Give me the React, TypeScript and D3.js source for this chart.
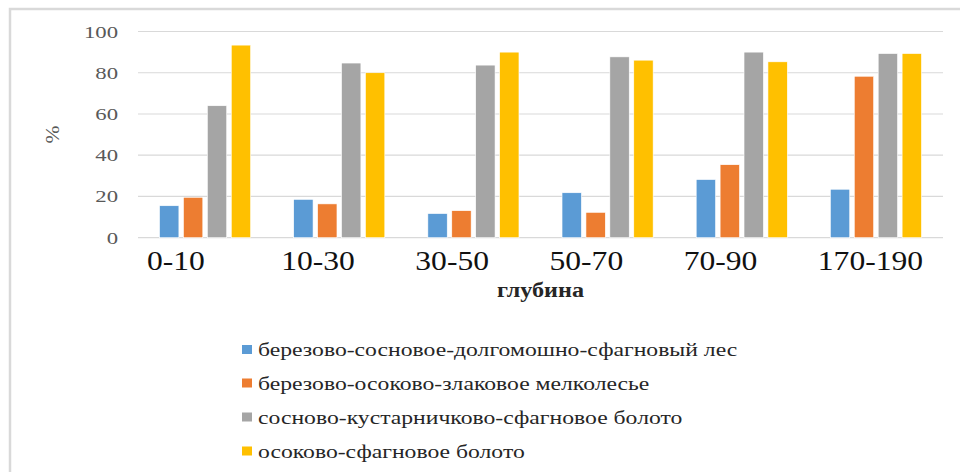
import { useEffect, useRef } from 'react';
import * as d3 from 'd3';

// depth intervals (cm)
const depths = ['0-10', '10-30', '30-50', '50-70', '70-90', '170-190'];

const seriesNames = [
  'березово-сосновое-долгомошно-сфагновый лес',
  'березово-осоково-злаковое мелколесье',
  'сосново-кустарничково-сфагновое болото',
  'осоково-сфагновое болото',
];

// values per depth, one array per series
const forestValues = [15.5, 18.6, 11.7, 21.8, 28.2, 23.5];
const smallWoodValues = [19.6, 16.4, 13.1, 12.3, 35.4, 78.3];
const pineBogValues = [64, 84.7, 83.7, 87.7, 90, 89.3];
const sedgeBogValues = [93.4, 80, 90, 86.1, 85.3, 89.3];

const yTicks = [0, 20, 40, 60, 80, 100];

const colors = ['#5b9bd5', '#ed7d31', '#a5a5a5', '#ffc000'];

const FONT = "'Liberation Serif', 'Times New Roman', serif";

export default function App() {
  const svgRef = useRef<SVGSVGElement>(null);
  const width = 960;
  const height = 472;

  useEffect(() => {
    if (!svgRef.current) return;
    const svg = d3.select(svgRef.current);
    svg.selectAll('*').remove();

    const allSeries = [forestValues, smallWoodValues, pineBogValues, sedgeBogValues];

    const plot = { left: 138, right: 943, top: 31.5, bottom: 237.7 };

    const x0 = d3.scaleBand<string>().domain(depths).range([plot.left, plot.right]).padding(0);
    const x1 = d3
      .scaleBand<number>()
      .domain(d3.range(allSeries.length))
      .range([0, x0.bandwidth()])
      .paddingInner(0.19)
      .paddingOuter(0.9);
    const y = d3.scaleLinear().domain([0, 100]).range([plot.bottom, plot.top]);

    // outer frame
    svg
      .append('rect')
      .attr('x', 10)
      .attr('y', 9)
      .attr('width', 980)
      .attr('height', 500)
      .attr('fill', 'none')
      .attr('stroke', '#d9d9d9')
      .attr('stroke-width', 2.5);

    // grid lines
    svg
      .selectAll('.grid')
      .data(yTicks)
      .enter()
      .append('line')
      .attr('x1', plot.left)
      .attr('x2', plot.right)
      .attr('y1', (d) => y(d))
      .attr('y2', (d) => y(d))
      .attr('stroke', '#d9d9d9')
      .attr('stroke-width', 1.2);

    // y tick labels (stretched horizontally, as in the original)
    svg
      .selectAll('.ytick')
      .data(yTicks)
      .enter()
      .append('text')
      .attr('transform', (d) => `translate(118,${y(d) + 6}) scale(1.3,1)`)
      .attr('text-anchor', 'end')
      .style('font-family', FONT)
      .style('font-size', '17.5px')
      .attr('fill', '#595959')
      .text((d) => d);

    svg
      .append('text')
      .attr('transform', `translate(59,${(plot.top + plot.bottom) / 2}) rotate(-90) scale(1.2,1)`)
      .attr('text-anchor', 'middle')
      .style('font-family', FONT)
      .style('font-size', '18px')
      .attr('fill', '#595959')
      .text('%');

    // bars
    allSeries.forEach((values, si) => {
      svg
        .append('g')
        .selectAll('rect')
        .data(values)
        .enter()
        .append('rect')
        .attr('x', (_, i) => (x0(depths[i]) ?? 0) + (x1(si) ?? 0))
        .attr('y', (d) => y(d))
        .attr('width', x1.bandwidth())
        .attr('height', (d) => y(0) - y(d))
        .attr('fill', colors[si])
        .attr('stroke', '#ffffff')
        .attr('stroke-width', 0.6);
    });

    // category labels - sit left-aligned inside each band in the original
    svg
      .selectAll('.xlab')
      .data(depths)
      .enter()
      .append('text')
      .attr('transform', (d) => `translate(${(x0(d) ?? 0) + 9},270) scale(1.17,1)`)
      .attr('text-anchor', 'start')
      .style('font-family', FONT)
      .style('font-size', '27px')
      .attr('fill', '#111111')
      .text((d) => d);

    // axis title
    svg
      .append('text')
      .attr('transform', `translate(${(plot.left + plot.right) / 2},297) scale(1.15,1)`)
      .attr('text-anchor', 'middle')
      .style('font-family', FONT)
      .style('font-size', '21px')
      .style('font-weight', 'bold')
      .attr('fill', '#262626')
      .text('глубина');

    // legend
    const legendRows = [350, 383.5, 417.5, 451.5];
    const legend = svg
      .selectAll('.leg')
      .data(seriesNames)
      .enter()
      .append('g')
      .attr('transform', (_, i) => `translate(242,${legendRows[i]})`);
    legend
      .append('rect')
      .attr('x', 0)
      .attr('y', -5)
      .attr('width', 10)
      .attr('height', 9)
      .attr('fill', (_, i) => colors[i]);
    legend
      .append('text')
      .attr('transform', 'translate(16,6) scale(1.28,1)')
      .style('font-family', FONT)
      .style('font-size', '18.5px')
      .attr('fill', '#262626')
      .text((d) => d);
  }, []);

  return (
    <svg
      ref={svgRef}
      width={width}
      height={height}
      style={{ position: 'absolute', left: 0, top: 0, background: '#ffffff' }}
    />
  );
}
